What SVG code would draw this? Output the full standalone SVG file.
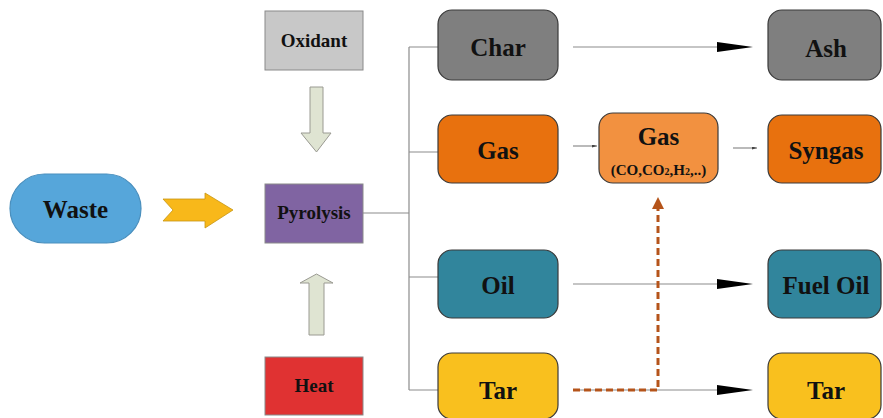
<svg xmlns="http://www.w3.org/2000/svg" width="883" height="418" viewBox="0 0 883 418">
  <defs>
    <style>
      .lbl { font-family: "Liberation Serif", "Times New Roman", serif; font-weight: bold; fill: #111; text-anchor: middle; }
      .big { font-size: 25px; }
      .sm { font-size: 19px; }
      .sub { font-size: 15px; }
      .box { stroke: #3a3a3a; stroke-width: 1.2; }
      .sq { stroke: #8a8a8a; stroke-width: 1; }
      .wire { stroke: #8c8c8c; stroke-width: 1.2; fill: none; }
      .flow { stroke: #8c8c8c; stroke-width: 1.2; fill: none; }
      .blk { fill: #000; }
    </style>
    <marker id="tiny" viewBox="0 0 10 6" refX="10" refY="3" markerWidth="5" markerHeight="3" markerUnits="userSpaceOnUse" orient="auto">
      <path d="M0,0 L10,3 L0,6 Z" fill="#444"/>
    </marker>
  </defs>

  <rect width="883" height="418" fill="#ffffff"/>

  <!-- connectors -->
  <g id="connectors">
    <!-- Pyrolysis branch bus -->
    <path class="wire" d="M363,213 H409 M409,47 V390 M409,47 H438 M409,152 H438 M409,277 H438 M409,390 H438"/>
    <!-- product lines with long black heads -->
    <line class="flow" x1="573" y1="47" x2="720" y2="47"/>
    <path class="blk" d="M717,42 L753,47 L717,52 Z"/>
    <line class="flow" x1="573" y1="284" x2="720" y2="284"/>
    <path class="blk" d="M717,279 L753,284 L717,289 Z"/>
    <line class="flow" x1="573" y1="390" x2="720" y2="390"/>
    <path class="blk" d="M717,385 L753,390 L717,395 Z"/>
    <!-- short gas links -->
    <line class="flow" x1="573" y1="146" x2="597" y2="146" marker-end="url(#tiny)"/>
    <line class="flow" x1="733" y1="148" x2="757" y2="148" marker-end="url(#tiny)"/>
    <!-- tar cracking to gas (dashed) -->
    <path d="M573,390 H658 V207" fill="none" stroke="#b5541a" stroke-width="3" stroke-dasharray="7,4"/>
    <path d="M652,209 L658,197 L664,209 Z" fill="#b5541a"/>
    <!-- feed arrows -->
    <path d="M163,199 H205 V193 L233,210 L205,228 V221 H163 L173,210 Z" fill="#f8b81a" stroke="#c79512" stroke-width="0.8"/>
    <path d="M310,87 H323 V133 H331 L316.5,152 L301,133 H310 Z" fill="#dfe4d2" stroke="#9a9a92" stroke-width="1"/>
    <path d="M309,335 H324 V283 H333 L316.5,274 L300,283 H309 Z" fill="#dfe4d2" stroke="#9a9a92" stroke-width="1"/>
  </g>

  <g id="waste">
    <rect x="10" y="174" width="131" height="69" rx="34.5" fill="#56a6da" stroke="#4a8fbd" stroke-width="1.2"/>
    <text class="lbl big" x="75.5" y="218">Waste</text>
  </g>

  <g id="oxidant">
    <rect class="sq" x="265" y="11" width="98" height="59" fill="#c8c8c8"/>
    <text class="lbl sm" x="314" y="47">Oxidant</text>
  </g>
  <g id="pyrolysis">
    <rect class="sq" x="265" y="184" width="98" height="59" fill="#8064a2"/>
    <text class="lbl sm" x="314" y="219">Pyrolysis</text>
  </g>
  <g id="heat">
    <rect class="sq" x="265" y="357" width="98" height="58" fill="#e03232"/>
    <text class="lbl sm" x="314" y="392">Heat</text>
  </g>

  <g id="char">
    <rect class="box" x="438" y="10" width="120" height="70" rx="14" fill="#7f7f7f"/>
    <text class="lbl big" x="498" y="56">Char</text>
  </g>
  <g id="gas">
    <rect class="box" x="438" y="115" width="120" height="68" rx="14" fill="#e8710e"/>
    <text class="lbl big" x="498" y="159">Gas</text>
  </g>
  <g id="oil">
    <rect class="box" x="438" y="250" width="120" height="68" rx="14" fill="#31859c"/>
    <text class="lbl big" x="498" y="294">Oil</text>
  </g>
  <g id="tar">
    <rect class="box" x="438" y="353" width="120" height="66" rx="14" fill="#f9c01e"/>
    <text class="lbl big" x="498" y="399">Tar</text>
  </g>

  <g id="gas-mix">
    <rect class="box" x="599" y="113" width="119" height="70" rx="14" fill="#f29140"/>
    <text class="lbl big" x="658.5" y="145">Gas</text>
    <text class="lbl sub" x="658.5" y="175">(CO,CO<tspan font-size="10">2</tspan>,H<tspan font-size="10">2</tspan>,..)</text>
  </g>

  <g id="ash">
    <rect class="box" x="768" y="10" width="113" height="70" rx="14" fill="#7f7f7f"/>
    <text class="lbl big" x="826" y="57">Ash</text>
  </g>
  <g id="syngas">
    <rect class="box" x="768" y="115" width="113" height="68" rx="14" fill="#e8710e"/>
    <text class="lbl big" x="826" y="159">Syngas</text>
  </g>
  <g id="fuel-oil">
    <rect class="box" x="768" y="250" width="113" height="68" rx="14" fill="#31859c"/>
    <text class="lbl big" x="826" y="294">Fuel Oil</text>
  </g>
  <g id="tar-out">
    <rect class="box" x="768" y="353" width="113" height="66" rx="14" fill="#f9c01e"/>
    <text class="lbl big" x="826" y="399">Tar</text>
  </g>
</svg>
